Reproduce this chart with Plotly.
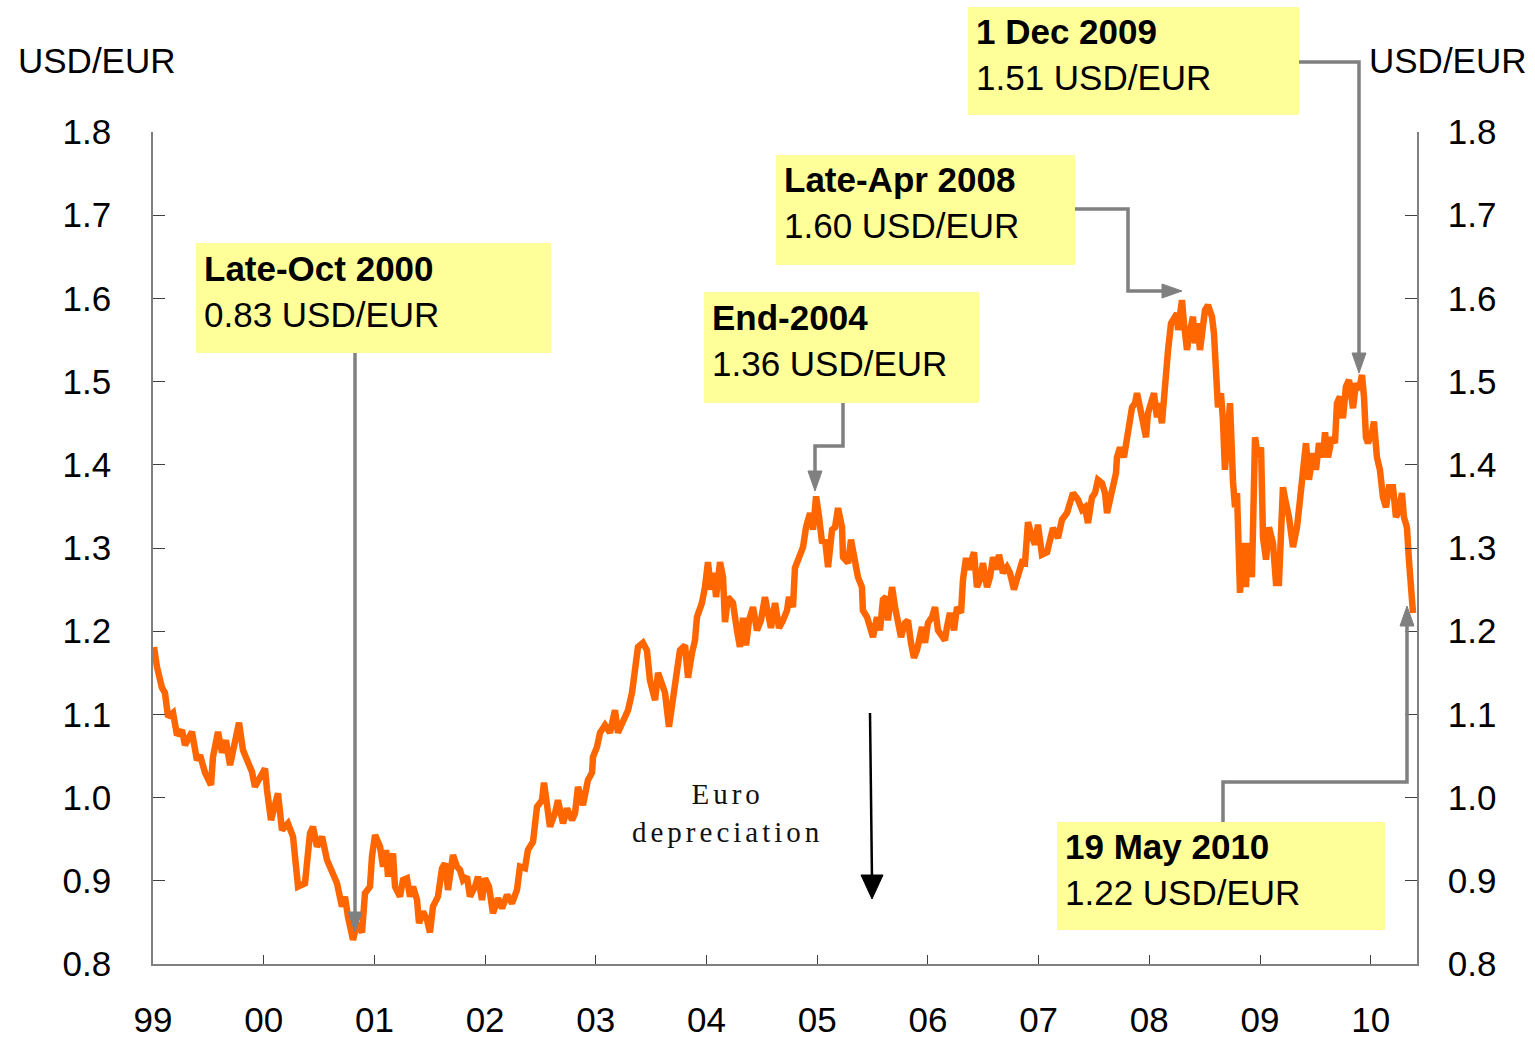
import plotly.graph_objects as go

# ---------------- data ----------------
years = [
    1999.009, 1999.036, 1999.081, 1999.108, 1999.136, 1999.181, 1999.217, 1999.262, 1999.289, 1999.352,
    1999.397, 1999.425, 1999.470, 1999.524, 1999.542, 1999.587, 1999.623, 1999.659, 1999.696, 1999.741,
    1999.777, 1999.813, 1999.849, 1999.894, 1999.921, 1999.966, 2000.012, 2000.030, 2000.066, 2000.129,
    2000.165, 2000.219, 2000.265, 2000.310, 2000.373, 2000.418, 2000.445, 2000.481, 2000.527, 2000.572,
    2000.617, 2000.662, 2000.707, 2000.734, 2000.761, 2000.807, 2000.843, 2000.888, 2000.915, 2000.960,
    2000.978, 2001.006, 2001.051, 2001.078, 2001.105, 2001.123, 2001.168, 2001.186, 2001.231, 2001.258,
    2001.294, 2001.322, 2001.349, 2001.385, 2001.403, 2001.439, 2001.475, 2001.502, 2001.529, 2001.574,
    2001.611, 2001.638, 2001.665, 2001.710, 2001.746, 2001.773, 2001.800, 2001.836, 2001.863, 2001.909,
    2001.936, 2001.972, 2001.999, 2002.035, 2002.071, 2002.116, 2002.153, 2002.198, 2002.243, 2002.288,
    2002.315, 2002.360, 2002.387, 2002.433, 2002.469, 2002.514, 2002.532, 2002.559, 2002.586, 2002.631,
    2002.658, 2002.704, 2002.740, 2002.785, 2002.812, 2002.839, 2002.884, 2002.929, 2002.966, 2002.975,
    2003.011, 2003.038, 2003.083, 2003.128, 2003.173, 2003.200, 2003.245, 2003.291, 2003.327, 2003.354,
    2003.381, 2003.426, 2003.462, 2003.489, 2003.517, 2003.535, 2003.562, 2003.598, 2003.625, 2003.661,
    2003.697, 2003.733, 2003.760, 2003.806, 2003.833, 2003.869, 2003.896, 2003.914, 2003.959, 2003.986,
    2004.013, 2004.040, 2004.068, 2004.086, 2004.122, 2004.149, 2004.167, 2004.194, 2004.239, 2004.275,
    2004.302, 2004.330, 2004.357, 2004.384, 2004.420, 2004.456, 2004.492, 2004.528, 2004.555, 2004.582,
    2004.619, 2004.655, 2004.691, 2004.727, 2004.745, 2004.781, 2004.799, 2004.835, 2004.872, 2004.899,
    2004.935, 2004.962, 2004.990, 2005.017, 2005.044, 2005.071, 2005.098, 2005.134, 2005.161, 2005.188,
    2005.224, 2005.233, 2005.279, 2005.305, 2005.341, 2005.368, 2005.404, 2005.413, 2005.450, 2005.477,
    2005.504, 2005.540, 2005.567, 2005.594, 2005.621, 2005.639, 2005.676, 2005.703, 2005.730, 2005.757,
    2005.793, 2005.820, 2005.847, 2005.874, 2005.901, 2005.946, 2005.974, 2006.001, 2006.037, 2006.064,
    2006.091, 2006.127, 2006.154, 2006.172, 2006.199, 2006.236, 2006.263, 2006.299, 2006.317, 2006.344,
    2006.371, 2006.416, 2006.443, 2006.479, 2006.497, 2006.534, 2006.561, 2006.588, 2006.624, 2006.642,
    2006.678, 2006.714, 2006.741, 2006.777, 2006.805, 2006.850, 2006.877, 2006.904, 2006.940, 2006.967,
    2006.994, 2007.030, 2007.076, 2007.130, 2007.175, 2007.211, 2007.256, 2007.283, 2007.310, 2007.356,
    2007.392, 2007.419, 2007.446, 2007.482, 2007.509, 2007.536, 2007.572, 2007.600, 2007.618, 2007.645,
    2007.672, 2007.699, 2007.708, 2007.735, 2007.771, 2007.798, 2007.816, 2007.844, 2007.871, 2007.889,
    2007.916, 2007.943, 2007.970, 2007.988, 2008.015, 2008.042, 2008.069, 2008.087, 2008.114, 2008.132,
    2008.150, 2008.168, 2008.196, 2008.223, 2008.250, 2008.259, 2008.295, 2008.313, 2008.340, 2008.358,
    2008.394, 2008.412, 2008.430, 2008.458, 2008.485, 2008.503, 2008.530, 2008.566, 2008.584, 2008.602,
    2008.620, 2008.647, 2008.665, 2008.683, 2008.702, 2008.729, 2008.756, 2008.774, 2008.792, 2008.819,
    2008.846, 2008.873, 2008.891, 2008.927, 2008.955, 2008.982, 2009.009, 2009.027, 2009.054, 2009.081,
    2009.117, 2009.144, 2009.171, 2009.207, 2009.234, 2009.262, 2009.298, 2009.334, 2009.361, 2009.388,
    2009.415, 2009.442, 2009.478, 2009.505, 2009.533, 2009.569, 2009.587, 2009.614, 2009.650, 2009.677,
    2009.695, 2009.722, 2009.749, 2009.776, 2009.804, 2009.840, 2009.867, 2009.894, 2009.921, 2009.939,
    2009.957, 2009.975, 2010.011, 2010.029, 2010.056, 2010.083, 2010.111, 2010.138, 2010.165, 2010.201,
    2010.228, 2010.255, 2010.282, 2010.300, 2010.327, 2010.345, 2010.373, 2010.382,
]
usd_per_eur = [
    1.181, 1.157, 1.132, 1.126, 1.097, 1.102, 1.075, 1.081, 1.063, 1.079,
    1.045, 1.051, 1.030, 1.015, 1.049, 1.079, 1.054, 1.069, 1.039, 1.072,
    1.090, 1.057, 1.043, 1.031, 1.013, 1.025, 1.035, 1.009, 0.973, 1.005,
    0.961, 0.969, 0.953, 0.893, 0.897, 0.957, 0.965, 0.941, 0.953, 0.925,
    0.913, 0.897, 0.869, 0.881, 0.857, 0.829, 0.849, 0.838, 0.885, 0.893,
    0.929, 0.955, 0.941, 0.917, 0.937, 0.905, 0.933, 0.893, 0.881, 0.901,
    0.903, 0.881, 0.893, 0.877, 0.849, 0.863, 0.853, 0.838, 0.869, 0.881,
    0.915, 0.921, 0.889, 0.931, 0.917, 0.913, 0.901, 0.905, 0.881, 0.893,
    0.905, 0.877, 0.903, 0.893, 0.861, 0.879, 0.867, 0.883, 0.873, 0.889,
    0.917, 0.915, 0.937, 0.947, 0.989, 0.997, 1.018, 0.989, 0.965, 0.981,
    0.997, 0.969, 0.987, 0.973, 0.981, 1.013, 0.991, 1.021, 1.030, 1.049,
    1.061, 1.078, 1.087, 1.078, 1.105, 1.078, 1.091, 1.105, 1.126, 1.153,
    1.181, 1.186, 1.177, 1.141, 1.129, 1.117, 1.150, 1.138, 1.126, 1.085,
    1.117, 1.145, 1.177, 1.183, 1.144, 1.174, 1.189, 1.217, 1.234, 1.253,
    1.283, 1.250, 1.270, 1.241, 1.283, 1.265, 1.211, 1.241, 1.234, 1.201,
    1.181, 1.216, 1.183, 1.213, 1.229, 1.201, 1.213, 1.241, 1.217, 1.204,
    1.234, 1.204, 1.213, 1.225, 1.241, 1.229, 1.276, 1.289, 1.301, 1.325,
    1.342, 1.322, 1.362, 1.337, 1.306, 1.310, 1.277, 1.322, 1.325, 1.348,
    1.325, 1.289, 1.282, 1.310, 1.289, 1.265, 1.253, 1.225, 1.217, 1.205,
    1.193, 1.217, 1.201, 1.238, 1.241, 1.213, 1.253, 1.229, 1.213, 1.193,
    1.210, 1.213, 1.186, 1.168, 1.177, 1.205, 1.186, 1.210, 1.217, 1.229,
    1.201, 1.193, 1.189, 1.205, 1.222, 1.201, 1.229, 1.222, 1.262, 1.288,
    1.274, 1.295, 1.253, 1.265, 1.282, 1.253, 1.265, 1.289, 1.274, 1.292,
    1.270, 1.277, 1.270, 1.250, 1.265, 1.283, 1.282, 1.331, 1.313, 1.304,
    1.328, 1.292, 1.295, 1.324, 1.312, 1.334, 1.342, 1.358, 1.366, 1.358,
    1.346, 1.349, 1.330, 1.361, 1.366, 1.382, 1.378, 1.366, 1.342, 1.358,
    1.373, 1.390, 1.409, 1.421, 1.409, 1.430, 1.445, 1.469, 1.474, 1.486,
    1.469, 1.445, 1.433, 1.462, 1.478, 1.486, 1.457, 1.474, 1.450, 1.482,
    1.518, 1.536, 1.570, 1.578, 1.582, 1.562, 1.598, 1.570, 1.538, 1.554,
    1.578, 1.546, 1.570, 1.538, 1.562, 1.586, 1.592, 1.578, 1.558, 1.514,
    1.469, 1.486, 1.454, 1.394, 1.442, 1.474, 1.380, 1.349, 1.366, 1.246,
    1.306, 1.253, 1.306, 1.265, 1.433, 1.409, 1.421, 1.313, 1.286, 1.325,
    1.306, 1.258, 1.258, 1.373, 1.354, 1.337, 1.301, 1.325, 1.358, 1.402,
    1.426, 1.382, 1.414, 1.394, 1.426, 1.409, 1.439, 1.409, 1.433, 1.426,
    1.474, 1.482, 1.456, 1.494, 1.502, 1.468, 1.498, 1.490, 1.508, 1.482,
    1.433, 1.426, 1.438, 1.452, 1.409, 1.394, 1.361, 1.349, 1.373, 1.373,
    1.337, 1.346, 1.366, 1.337, 1.325, 1.286, 1.246, 1.222,
]
tick_years = [1999, 2000, 2001, 2002, 2003, 2004, 2005, 2006, 2007, 2008, 2009, 2010]
tick_labels = ["99", "00", "01", "02", "03", "04", "05", "06", "07", "08", "09", "10"]
y_ticks = [0.8, 0.9, 1.0, 1.1, 1.2, 1.3, 1.4, 1.5, 1.6, 1.7, 1.8]

callouts = [
    ("Late-Oct 2000", "0.83 USD/EUR"),
    ("End-2004", "1.36 USD/EUR"),
    ("Late-Apr 2008", "1.60 USD/EUR"),
    ("1 Dec 2009", "1.51 USD/EUR"),
    ("19 May 2010", "1.22 USD/EUR"),
]

# ---------------- layout helpers (pixel -> paper) ----------------
W, H = 1535, 1038
L, R, T, B = 153, 1417, 132, 964


def px(x):
    return (x - L) / (R - L)


def py(y):
    return (B - y) / (B - T)


ORANGE = "#FF6600"
YELLOW = "#FFFF99"
GREY = "#808080"
FONT = "Liberation Sans, Arial, sans-serif"

fig = go.Figure()
fig.add_trace(go.Scatter(
    x=years, y=usd_per_eur, mode="lines",
    line=dict(color=ORANGE, width=6.5), showlegend=False, hoverinfo="skip",
))
fig.add_trace(go.Scatter(x=[years[0]], y=[usd_per_eur[0]], yaxis="y2",
                         mode="markers", marker=dict(opacity=0), showlegend=False,
                         hoverinfo="skip"))

axis_common = dict(
    showgrid=False, zeroline=False, showline=True, linecolor=GREY, linewidth=1.5,
    ticks="inside", tickcolor="#404040", tickwidth=1.2, automargin=False,
    tickfont=dict(family=FONT, size=35, color="black"),
)

fig.update_layout(
    width=W, height=H,
    margin=dict(l=L, r=W - R, t=T, b=H - B, pad=0, autoexpand=False),
    paper_bgcolor="white", plot_bgcolor="white",
    xaxis=dict(range=[1999, 2010.418], tickvals=tick_years, ticktext=tick_labels,
               ticklen=9, ticklabelstandoff=24, **axis_common),
    yaxis=dict(range=[0.8, 1.8], tickvals=y_ticks, tickformat=".1f",
               ticklen=12, ticklabelstandoff=33, **axis_common),
    yaxis2=dict(range=[0.8, 1.8], tickvals=y_ticks, tickformat=".1f", overlaying="y",
                side="right", ticklen=12, ticklabelstandoff=22, **axis_common),
)

shapes = []
annotations = []

# yellow call-out boxes: (left, top, right, bottom) in pixels
boxes = [(196, 243, 551, 353), (704, 292, 979, 403), (776, 155, 1075, 265),
         (968, 7, 1299, 115), (1057, 822, 1385, 930)]
for (x0, y0, x1, y1), (bold, plain) in zip(boxes, callouts):
    shapes.append(dict(type="rect", xref="paper", yref="paper",
                       x0=px(x0), x1=px(x1), y0=py(y1), y1=py(y0),
                       fillcolor=YELLOW, line=dict(width=0), layer="above"))
    annotations.append(dict(xref="paper", yref="paper", x=px(x0 + 6), y=py((y0 + y1) / 2 - 7),
                            xanchor="left", yanchor="middle", align="left", showarrow=False,
                            text=f"<b>{bold}</b><br>{plain}",
                            font=dict(family=FONT, size=35, color="black")))


def path(points):
    return "M " + " L ".join(f"{px(a)},{py(b)}" for a, b in points)


def head(tip, direction, length=20, half=7):
    tx, ty = tip
    if direction == "down":
        pts = [(tx - half, ty - length), (tx + half, ty - length), (tx, ty)]
    elif direction == "up":
        pts = [(tx - half, ty + length), (tx + half, ty + length), (tx, ty)]
    else:  # right
        pts = [(tx - length, ty - half), (tx - length, ty + half), (tx, ty)]
    return path(pts) + " Z"


connectors = [
    ([(355, 353), (355, 915)], (355, 932), "down"),
    ([(843, 403), (843, 446), (815, 446), (815, 475)], (815, 491), "down"),
    ([(1075, 209), (1128, 209), (1128, 291), (1165, 291)], (1182, 291), "right"),
    ([(1299, 62), (1359, 62), (1359, 356)], (1359, 373), "down"),
    ([(1223, 822), (1223, 782), (1407, 782), (1407, 623)], (1407, 606), "up"),
]
for pts, tip, d in connectors:
    shapes.append(dict(type="path", xref="paper", yref="paper", path=path(pts),
                       line=dict(color=GREY, width=3.5), layer="above"))
    shapes.append(dict(type="path", xref="paper", yref="paper", path=head(tip, d),
                       fillcolor=GREY, line=dict(color=GREY, width=1), layer="above"))

# black "Euro depreciation" arrow
shapes.append(dict(type="path", xref="paper", yref="paper", path=path([(870, 713), (872, 880)]),
                   line=dict(color="black", width=2.5), layer="above"))
shapes.append(dict(type="path", xref="paper", yref="paper",
                   path=head((872, 899), "down", length=24, half=11),
                   fillcolor="black", line=dict(color="black", width=1), layer="above"))

annotations.append(dict(xref="paper", yref="paper", x=px(727), y=py(813),
                        xanchor="center", yanchor="middle", showarrow=False,
                        text='<span style="letter-spacing:4px">Euro<br>depreciation</span>',
                        font=dict(family="Liberation Serif, serif", size=29, color="#111111")))

# axis unit titles
for xc in (97, 1448):
    annotations.append(dict(xref="paper", yref="paper", x=px(xc), y=py(60),
                            xanchor="center", yanchor="middle", showarrow=False,
                            text="USD/EUR", font=dict(family=FONT, size=35, color="black")))

fig.update_layout(shapes=shapes, annotations=annotations)

fig.write_html("out.html", config={"displayModeBar": False},
               post_script="document.body.style.margin='0';")
